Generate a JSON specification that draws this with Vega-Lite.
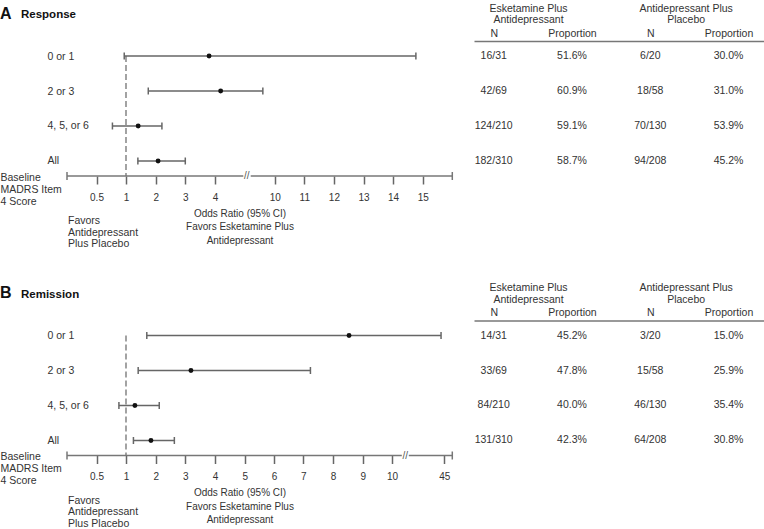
{
  "$schema": "https://vega.github.io/schema/vega-lite/v6.json",
  "padding": {"top": 3, "left": 0, "right": 0, "bottom": 0},
  "background": "white",
  "config": {"font": "Liberation Sans", "view": {"stroke": null}, "axis": {"labelOverlap": false}},
  "datasets": {
    "response": [
      {"row": "0 or 1", "or": 3.80, "lo": 0.97, "hi": 14.77, "eN": "16/31", "eP": "51.6%", "pN": "6/20", "pP": "30.0%"},
      {"row": "2 or 3", "or": 4.19, "lo": 1.75, "hi": 9.60, "eN": "42/69", "eP": "60.9%", "pN": "18/58", "pP": "31.0%"},
      {"row": "4, 5, or 6", "or": 1.41, "lo": 0.77, "hi": 2.21, "eN": "124/210", "eP": "59.1%", "pN": "70/130", "pP": "53.9%"},
      {"row": "All", "or": 2.08, "lo": 1.40, "hi": 3.00, "eN": "182/310", "eP": "58.7%", "pN": "94/208", "pP": "45.2%"}
    ],
    "remission": [
      {"row": "0 or 1", "or": 8.54, "lo": 1.70, "hi": 44.89, "eN": "14/31", "eP": "45.2%", "pN": "3/20", "pP": "15.0%"},
      {"row": "2 or 3", "or": 3.19, "lo": 1.41, "hi": 7.24, "eN": "33/69", "eP": "47.8%", "pN": "15/58", "pP": "25.9%"},
      {"row": "4, 5, or 6", "or": 1.30, "lo": 0.88, "hi": 2.12, "eN": "84/210", "eP": "40.0%", "pN": "46/130", "pP": "35.4%"},
      {"row": "All", "or": 1.84, "lo": 1.25, "hi": 2.63, "eN": "131/310", "eP": "42.3%", "pN": "64/208", "pP": "30.8%"}
    ],
    "groups": [
      {"grp": "Esketamine Plus\nAntidepressant"},
      {"grp": "Antidepressant Plus\nPlacebo"}
    ]
  },
  "bounds": "flush",
  "spacing": 279.5,
  "vconcat": [
    {
      "title": {"text": "A", "anchor": "start", "frame": "bounds", "fontSize": 16, "fontWeight": "bold", "color": "#111", "baseline": "alphabetic", "offset": -31.8},
      "bounds": "flush",
      "spacing": 21,
      "hconcat": [
        {
          "width": 386, "height": 135,
          "title": {"text": "Response", "anchor": "start", "frame": "group", "dx": -46, "fontSize": 11.5, "fontWeight": "bold", "color": "#111", "baseline": "alphabetic", "offset": 11.2},
          "data": {"name": "response"},
          "resolve": {"axis": {"x": "independent", "y": "independent"}},
          "layer": [
            {"data": {"values": [{}]}, "mark": {"type": "rule", "strokeDash": [6, 3], "color": "#666", "strokeWidth": 1.2},
             "encoding": {"x": {"datum": 1, "type": "quantitative", "axis": null}, "y": {"datum": "0 or 1", "type": "nominal", "axis": null}, "y2": {"value": "height"}}},
            {"data": {"values": [{}]}, "mark": {"type": "rule", "color": "#777", "strokeWidth": 1.5},
             "encoding": {"x": {"datum": 0, "type": "quantitative", "axis": null}, "x2": {"datum": 4.95}, "y": {"value": "height"}}},
            {"data": {"values": [{}]}, "mark": {"type": "rule", "color": "#777", "strokeWidth": 1.5},
             "encoding": {"x": {"datum": 9.19, "type": "quantitative", "axis": null}, "x2": {"datum": 16}, "y": {"value": "height"}}},
            {"data": {"values": [{}]}, "mark": {"type": "text", "text": "//", "fontSize": 10, "color": "#555"},
             "encoding": {"x": {"datum": 7, "type": "quantitative", "axis": null}, "y": {"value": "height"}}},
            {"data": {"values": [{}]}, "mark": {"type": "tick", "orient": "vertical", "size": 8, "thickness": 1.5, "color": "#777", "opacity": 1},
             "encoding": {"x": {"datum": 0, "type": "quantitative", "axis": null}, "y": {"value": "height"}}},
            {"data": {"values": [{}]}, "mark": {"type": "tick", "orient": "vertical", "size": 8, "thickness": 1.5, "color": "#777", "opacity": 1},
             "encoding": {"x": {"datum": 16, "type": "quantitative", "axis": null}, "y": {"value": "height"}}},
            {"mark": {"type": "rule", "color": "#666", "strokeWidth": 1.5},
             "encoding": {
               "x": {"field": "lo", "type": "quantitative",
                     "scale": {"type": "linear", "domain": [0, 0.5, 1, 2, 3, 4, 4.95, 9.19, 10, 15, 16], "range": [0, 29.5, 59, 88.7, 118.3, 148, 176.3, 183.7, 207.7, 355.7, 385.3], "nice": false, "zero": false},
                     "axis": {"orient": "bottom", "values": [0.5, 1, 2, 3, 4, 10, 11, 12, 13, 14, 15], "format": "~g", "domain": false, "grid": false, "ticks": true, "tickSize": 8, "tickColor": "#666", "tickWidth": 1.5, "labelFontSize": 10, "labelColor": "#333", "labelPadding": 8, "labelFlush": false, "labelOverlap": false,
                              "title": ["Odds Ratio (95% CI)", "Favors Esketamine Plus", "Antidepressant"], "titleX": 172.5, "titleY": 32, "titleAlign": "center", "titleBaseline": "top", "titleFontSize": 10, "titleFontWeight": "normal", "titleColor": "#333", "titleLineHeight": 13.5}},
               "x2": {"field": "hi"},
               "y": {"field": "row", "type": "nominal",
                     "scale": {"type": "point", "domain": ["0 or 1", "2 or 3", "4, 5, or 6", "All"], "padding": 0.4286},
                     "axis": {"orient": "left", "domain": false, "ticks": false, "tickSize": 0, "labelAlign": "left", "labelPadding": 20, "labelFontSize": 10.5, "labelColor": "#333", "labelBaseline": "middle",
                              "title": ["Baseline", "MADRS Item", "4 Score"], "titleAngle": 0, "titleAlign": "left", "titleBaseline": "top", "titleX": -67, "titleY": 131, "titleFontSize": 10.5, "titleFontWeight": "normal", "titleColor": "#333", "titleLineHeight": 12}}
             }},
            {"mark": {"type": "tick", "size": 7, "thickness": 1.5, "color": "#666", "opacity": 1},
             "encoding": {"x": {"field": "lo", "type": "quantitative", "axis": null}, "y": {"field": "row", "type": "nominal", "axis": null}}},
            {"mark": {"type": "tick", "size": 7, "thickness": 1.5, "color": "#666", "opacity": 1},
             "encoding": {"x": {"field": "hi", "type": "quantitative", "axis": null}, "y": {"field": "row", "type": "nominal", "axis": null}}},
            {"mark": {"type": "circle", "size": 24, "color": "#111", "opacity": 1},
             "encoding": {"x": {"field": "or", "type": "quantitative", "axis": null}, "y": {"field": "row", "type": "nominal", "axis": null}}}
          ]
        },
        {
          "width": 290, "height": 135,
          "title": {"text": ["Favors", "Antidepressant", "Plus Placebo"], "orient": "bottom", "anchor": "start", "frame": "group", "dx": -406, "baseline": "top", "offset": 40, "fontSize": 10.5, "fontWeight": "normal", "color": "#333", "lineHeight": 11.7},
          "resolve": {"scale": {"x": "independent"}, "axis": {"x": "independent"}},
          "layer": [
            {"data": {"name": "response"},
             "transform": [{"fold": ["eN", "eP", "pN", "pP"], "as": ["col", "val"]}],
             "mark": {"type": "text", "fontSize": 10.5, "color": "#333"},
             "encoding": {
               "x": {"field": "col", "type": "nominal", "scale": {"type": "point", "domain": ["eN", "eP", "pN", "pP"], "padding": 0.352, "align": 0.357},
                     "axis": {"orient": "top", "title": null, "labelExpr": "datum.value == 'eN' || datum.value == 'pN' ? 'N' : 'Proportion'", "domainColor": "#777", "domainWidth": 1.5, "ticks": false, "tickSize": 0, "labelAngle": 0, "labelPadding": 3, "labelBaseline": "bottom", "labelFontSize": 10.5, "labelColor": "#333"}},
               "y": {"field": "row", "type": "nominal", "scale": {"type": "point", "domain": ["0 or 1", "2 or 3", "4, 5, or 6", "All"], "padding": 0.4286}, "axis": null},
               "text": {"field": "val"}
             }},
            {"data": {"name": "groups"},
             "mark": {"type": "text", "text": ""},
             "encoding": {
               "x": {"field": "grp", "type": "nominal", "sort": null, "scale": {"type": "point", "padding": 0.42, "align": 0.408},
                     "axis": {"orient": "top", "title": null, "domain": false, "ticks": false, "tickSize": 0, "labelAngle": 0, "labelExpr": "split(datum.value, '\\n')", "labelPadding": 28, "labelBaseline": "bottom", "labelLineHeight": 11.7, "labelFontSize": 10.5, "labelColor": "#333"}}
             }}
          ]
        }
      ]
    },
    {
      "title": {"text": "B", "anchor": "start", "frame": "bounds", "fontSize": 16, "fontWeight": "bold", "color": "#111", "baseline": "alphabetic", "offset": -31.8},
      "bounds": "flush",
      "spacing": 21,
      "hconcat": [
        {
          "width": 386, "height": 135,
          "title": {"text": "Remission", "anchor": "start", "frame": "group", "dx": -46, "fontSize": 11.5, "fontWeight": "bold", "color": "#111", "baseline": "alphabetic", "offset": 11.2},
          "data": {"name": "remission"},
          "resolve": {"axis": {"x": "independent", "y": "independent"}},
          "layer": [
            {"data": {"values": [{}]}, "mark": {"type": "rule", "strokeDash": [6, 3], "color": "#666", "strokeWidth": 1.2},
             "encoding": {"x": {"datum": 1, "type": "quantitative", "axis": null}, "y": {"datum": "0 or 1", "type": "nominal", "axis": null}, "y2": {"value": "height"}}},
            {"data": {"values": [{}]}, "mark": {"type": "rule", "color": "#777", "strokeWidth": 1.5},
             "encoding": {"x": {"datum": 0, "type": "quantitative", "axis": null}, "x2": {"datum": 10.33}, "y": {"value": "height"}}},
            {"data": {"values": [{}]}, "mark": {"type": "rule", "color": "#777", "strokeWidth": 1.5},
             "encoding": {"x": {"datum": 43.8, "type": "quantitative", "axis": null}, "x2": {"datum": 45.27}, "y": {"value": "height"}}},
            {"data": {"values": [{}]}, "mark": {"type": "text", "text": "//", "fontSize": 10, "color": "#555"},
             "encoding": {"x": {"datum": 27, "type": "quantitative", "axis": null}, "y": {"value": "height"}}},
            {"data": {"values": [{}]}, "mark": {"type": "tick", "orient": "vertical", "size": 8, "thickness": 1.5, "color": "#777", "opacity": 1},
             "encoding": {"x": {"datum": 0, "type": "quantitative", "axis": null}, "y": {"value": "height"}}},
            {"data": {"values": [{}]}, "mark": {"type": "tick", "orient": "vertical", "size": 8, "thickness": 1.5, "color": "#777", "opacity": 1},
             "encoding": {"x": {"datum": 45.27, "type": "quantitative", "axis": null}, "y": {"value": "height"}}},
            {"mark": {"type": "rule", "color": "#666", "strokeWidth": 1.5},
             "encoding": {
               "x": {"field": "lo", "type": "quantitative",
                     "scale": {"type": "linear", "domain": [0, 0.5, 1, 2, 3, 4, 5, 6, 7, 8, 9, 10, 10.33, 43.8, 45, 45.27], "range": [0, 29.5, 59, 88.7, 118.3, 148, 177.7, 207, 236.3, 266, 295.7, 325, 334.8, 341.8, 377.3, 385.3], "nice": false, "zero": false},
                     "axis": {"orient": "bottom", "values": [0.5, 1, 2, 3, 4, 5, 6, 7, 8, 9, 10, 45], "format": "~g", "domain": false, "grid": false, "ticks": true, "tickSize": 8, "tickColor": "#666", "tickWidth": 1.5, "labelFontSize": 10, "labelColor": "#333", "labelPadding": 8, "labelFlush": false, "labelOverlap": false,
                              "title": ["Odds Ratio (95% CI)", "Favors Esketamine Plus", "Antidepressant"], "titleX": 172.5, "titleY": 32, "titleAlign": "center", "titleBaseline": "top", "titleFontSize": 10, "titleFontWeight": "normal", "titleColor": "#333", "titleLineHeight": 13.5}},
               "x2": {"field": "hi"},
               "y": {"field": "row", "type": "nominal",
                     "scale": {"type": "point", "domain": ["0 or 1", "2 or 3", "4, 5, or 6", "All"], "padding": 0.4286},
                     "axis": {"orient": "left", "domain": false, "ticks": false, "tickSize": 0, "labelAlign": "left", "labelPadding": 20, "labelFontSize": 10.5, "labelColor": "#333", "labelBaseline": "middle",
                              "title": ["Baseline", "MADRS Item", "4 Score"], "titleAngle": 0, "titleAlign": "left", "titleBaseline": "top", "titleX": -67, "titleY": 131, "titleFontSize": 10.5, "titleFontWeight": "normal", "titleColor": "#333", "titleLineHeight": 12}}
             }},
            {"mark": {"type": "tick", "size": 7, "thickness": 1.5, "color": "#666", "opacity": 1},
             "encoding": {"x": {"field": "lo", "type": "quantitative", "axis": null}, "y": {"field": "row", "type": "nominal", "axis": null}}},
            {"mark": {"type": "tick", "size": 7, "thickness": 1.5, "color": "#666", "opacity": 1},
             "encoding": {"x": {"field": "hi", "type": "quantitative", "axis": null}, "y": {"field": "row", "type": "nominal", "axis": null}}},
            {"mark": {"type": "circle", "size": 24, "color": "#111", "opacity": 1},
             "encoding": {"x": {"field": "or", "type": "quantitative", "axis": null}, "y": {"field": "row", "type": "nominal", "axis": null}}}
          ]
        },
        {
          "width": 290, "height": 135,
          "title": {"text": ["Favors", "Antidepressant", "Plus Placebo"], "orient": "bottom", "anchor": "start", "frame": "group", "dx": -406, "baseline": "top", "offset": 40, "fontSize": 10.5, "fontWeight": "normal", "color": "#333", "lineHeight": 11.7},
          "resolve": {"scale": {"x": "independent"}, "axis": {"x": "independent"}},
          "layer": [
            {"data": {"name": "remission"},
             "transform": [{"fold": ["eN", "eP", "pN", "pP"], "as": ["col", "val"]}],
             "mark": {"type": "text", "fontSize": 10.5, "color": "#333"},
             "encoding": {
               "x": {"field": "col", "type": "nominal", "scale": {"type": "point", "domain": ["eN", "eP", "pN", "pP"], "padding": 0.352, "align": 0.357},
                     "axis": {"orient": "top", "title": null, "labelExpr": "datum.value == 'eN' || datum.value == 'pN' ? 'N' : 'Proportion'", "domainColor": "#777", "domainWidth": 1.5, "ticks": false, "tickSize": 0, "labelAngle": 0, "labelPadding": 3, "labelBaseline": "bottom", "labelFontSize": 10.5, "labelColor": "#333"}},
               "y": {"field": "row", "type": "nominal", "scale": {"type": "point", "domain": ["0 or 1", "2 or 3", "4, 5, or 6", "All"], "padding": 0.4286}, "axis": null},
               "text": {"field": "val"}
             }},
            {"data": {"name": "groups"},
             "mark": {"type": "text", "text": ""},
             "encoding": {
               "x": {"field": "grp", "type": "nominal", "sort": null, "scale": {"type": "point", "padding": 0.42, "align": 0.408},
                     "axis": {"orient": "top", "title": null, "domain": false, "ticks": false, "tickSize": 0, "labelAngle": 0, "labelExpr": "split(datum.value, '\\n')", "labelPadding": 28, "labelBaseline": "bottom", "labelLineHeight": 11.7, "labelFontSize": 10.5, "labelColor": "#333"}}
             }}
          ]
        }
      ]
    }
  ]
}
